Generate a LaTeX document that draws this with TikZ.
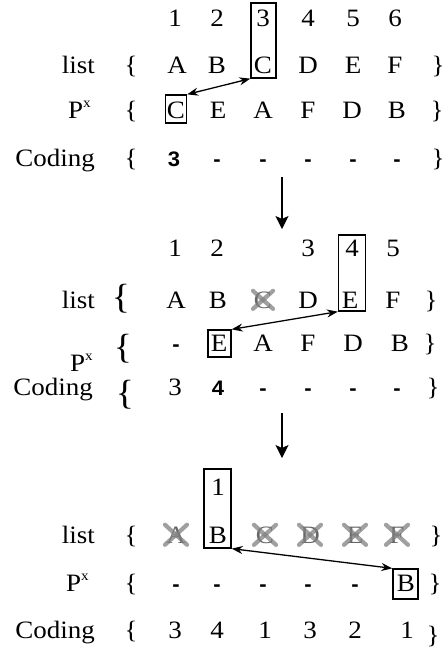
\documentclass[tikz,border=0pt]{standalone}
\usepackage{fontspec}
\setmainfont[FakeStretch=1.08]{Liberation Serif}
\newfontfamily\sansbf[FakeStretch=1.05]{Liberation Sans}
\usetikzlibrary{arrows.meta}
\begin{document}
\begin{tikzpicture}[x=1pt,y=1pt,
 t/.style={font=\fontsize{25}{28}\selectfont, inner sep=0pt, anchor=base},
 lab/.style={t, anchor=base east},
 bigbr/.style={font=\fontsize{35}{37}\selectfont, inner sep=0pt, anchor=base},
 dsh/.style={font=\sansbf\bfseries\fontsize{21}{23}\selectfont, inner sep=0pt, anchor=base},
 hbox/.style={draw, line width=1.3pt, inner sep=0pt},
 xline/.style={line width=4.2pt, gray, opacity=0.75, line cap=round},
 gl/.style={t, text=black!60},
 dbl/.style={line width=1.3pt, {Stealth[length=11pt,width=8pt]}-{Stealth[length=11pt,width=8pt]}},
 down/.style={line width=1.3pt, -{Stealth[length=13pt,width=13pt,inset=3pt]}}
]
\useasboundingbox (0,0) rectangle (445,-649);
\newcommand{\Px}{P\raisebox{0.42em}{\fontsize{14}{14}\selectfont x}}
% ---------------- panel 1
\foreach \x/\s [count=\i] in {175/1,217/2,263/3,308/4,353/5,395/6}
  \node[t] (ai\i) at (\x,-26) {\s};
\node[lab] (alab) at (95,-73) {list};
\node[t] (alo) at (131,-73) {\{};
\foreach \x/\s [count=\i] in {177/A,217/B,263/C,308/D,353/E,395/F}
  \node[t] (al\i) at (\x,-73) {\s};
\node[t] (alc) at (438,-73) {\}};
\node[lab] (aplab) at (91,-118) {\Px};
\node[t] (apo) at (131,-118) {\{};
\foreach \x/\s [count=\i] in {176/C,218/E,263/A,308/F,352/D,397/B}
  \node[t] (ap\i) at (\x,-118) {\s};
\node[t] (apc) at (437,-118) {\}};
\node[lab] (aclab) at (95,-166) {Coding};
\node[t] (aco) at (131,-166) {\{};
\node[dsh] (ac1) at (174,-166) {3};
\foreach \x [count=\i from 2] in {217,263,308,353,397}
  \node[dsh] (ac\i) at (\x,-166) {-};
\node[t] (acc) at (438,-166) {\}};
\node[hbox, minimum width=25, minimum height=75] (abox) at (263.5,-40.5) {};
\node[hbox, minimum width=21, minimum height=28] (apbox) at (176,-109) {};
\draw[dbl] (abox.south west) -- (apbox.north east);
\coordinate (d1a) at (282,-177);
\coordinate (d1b) at (282,-229);
\draw[down] (d1a) -- (d1b);
% ---------------- panel 2
\foreach \x/\s [count=\i] in {175/1,217/2,308/3,352/4,393/5}
  \node[t] (bi\i) at (\x,-256) {\s};
\node[lab] (blab) at (95,-308) {list};
\node[bigbr] (blo) at (121,-308.5) {\{};
\foreach \x/\s [count=\i] in {176/A,218/B,308/D,350/E,393/F}
  \node[t] (bl\i) at (\x,-308) {\s};
\node[gl] (blx) at (263,-308) {C};
\draw[xline] ([shift={(-10,-9)}]blx.center) -- ([shift={(10,9)}]blx.center);
\draw[xline] ([shift={(-10,9)}]blx.center) -- ([shift={(10,-9)}]blx.center);
\node[t] (blc) at (431,-308) {\}};
\node[bigbr] (bpo) at (123,-358) {\{};
\node[dsh] (bp1) at (176,-351) {-};
\foreach \x/\s [count=\i from 2] in {219/E,263/A,308/F,353/D,400/B}
  \node[t] (bp\i) at (\x,-351) {\s};
\node[t] (bpc) at (430,-351) {\}};
\node[lab] (bplab) at (93,-371) {\Px};
\node[lab] (bclab) at (93,-395) {Coding};
\node[bigbr] (bco) at (125,-404) {\{};
\node[t] (bc1) at (175,-395) {3};
\node[dsh] (bc2) at (218,-395) {4};
\foreach \x [count=\i from 3] in {263,308,353,397}
  \node[dsh] (bc\i) at (\x,-395) {-};
\node[t] (bcc) at (433,-395) {\}};
\node[hbox, minimum width=27, minimum height=76] (bbox) at (352,-273) {};
\node[hbox, minimum width=23, minimum height=27] (bpbox) at (219.5,-343.5) {};
\draw[dbl] (bbox.south west) -- (bpbox.north east);
\coordinate (d2a) at (282,-413);
\coordinate (d2b) at (282,-458);
\draw[down] (d2a) -- (d2b);
% ---------------- panel 3
\node[t] (ci1) at (218,-495) {1};
\node[lab] (clab) at (95,-543) {list};
\node[t] (clo) at (131,-543) {\{};
\node[t] (cl2) at (218,-543) {B};
\foreach \x/\s [count=\i] in {176/A,265/C,310/D,355/E,397/F}
  {\node[gl] (cx\i) at (\x,-543) {\s};
   \draw[xline] ([shift={(-11,-10)}]cx\i.center) -- ([shift={(11,10)}]cx\i.center);
   \draw[xline] ([shift={(-11,10)}]cx\i.center) -- ([shift={(11,-10)}]cx\i.center);}
\node[t] (clc) at (436,-543) {\}};
\node[lab] (cplab) at (89,-591) {\Px};
\node[t] (cpo) at (131,-591) {\{};
\foreach \x [count=\i] in {176,217,263,308,355}
  \node[dsh] (cp\i) at (\x,-591) {-};
\node[t] (cp6) at (406,-591) {B};
\node[t] (cpc) at (435,-591) {\}};
\node[lab] (cclab) at (95,-638) {Coding};
\node[t] (cco) at (131,-638) {\{};
\foreach \x/\s [count=\i] in {175/3,217/4,265/1,310/3,355/2,407/1}
  \node[t] (cc\i) at (\x,-638) {\s};
\node[t] (ccc) at (433,-643) {\}};
\node[hbox, minimum width=27, minimum height=79] (cbox) at (217.5,-508.5) {};
\node[hbox, minimum width=25, minimum height=30] (cpbox) at (405.5,-584) {};
\draw[dbl] (cbox.south east) -- (cpbox.north west);
\end{tikzpicture}
\end{document}
